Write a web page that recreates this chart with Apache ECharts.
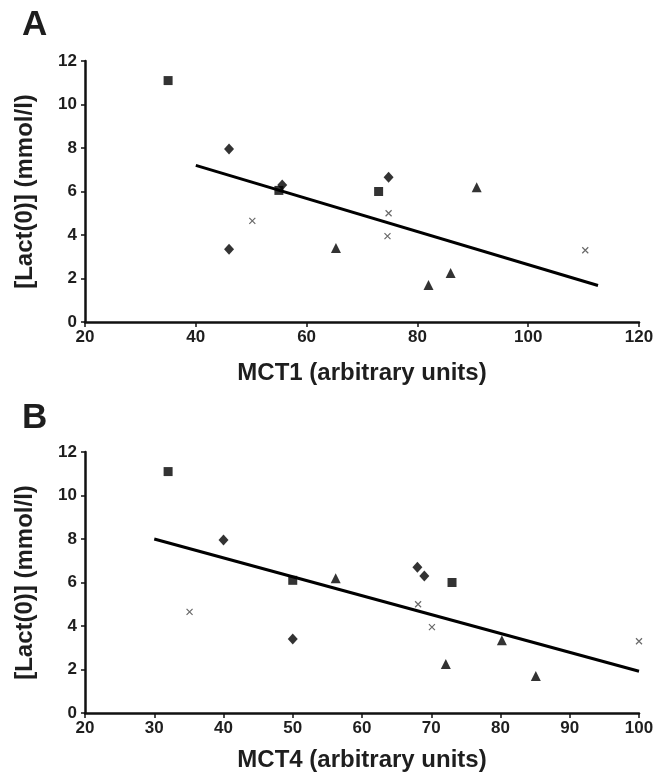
<!DOCTYPE html>
<html>
<head>
<meta charset="utf-8">
<script src="https://cdn.jsdelivr.net/npm/echarts@6/dist/echarts.min.js"></script>
<style>
html,body{margin:0;padding:0;background:#fff;}
#chart{width:670px;height:775px;}
</style>
</head>
<body>
<div id="chart"></div>
<script>
// Panel A: MCT1 vs [Lact(0)]
const aSquares   = [[35, 11.1], [55, 6.05], [73, 6.0]];
const aDiamonds  = [[46, 7.95], [46, 3.35], [55.6, 6.3], [74.8, 6.65]];
const aTriangles = [[65.3, 3.4], [82, 1.7], [86, 2.25], [90.7, 6.2]];
const aCrosses   = [[50.2, 4.65], [74.8, 5.0], [74.6, 3.95], [110.3, 3.3]];
const aFit       = [[40, 7.2], [112.6, 1.68]];

// Panel B: MCT4 vs [Lact(0)]
const bSquares   = [[32, 11.1], [50, 6.1], [73, 6.0]];
const bDiamonds  = [[40, 7.95], [50, 3.4], [68, 6.7], [69, 6.3]];
const bTriangles = [[56.2, 6.2], [72.1, 2.25], [80.2, 3.35], [85.1, 1.7]];
const bCrosses   = [[35.1, 4.65], [68.1, 5.0], [70.1, 3.95], [100, 3.3]];
const bFit       = [[30, 8.0], [100, 1.92]];

const aXTicks = {min: 20, max: 120, interval: 20};
const bXTicks = {min: 20, max: 100, interval: 10};
const yTicks  = {min: 0, max: 12, interval: 2};

const FONT = 'Liberation Sans, Arial, sans-serif';
const TXT = '#1e1e1e';

function xAxisCfg(idx, ticks, name, gap) {
  return {
    gridIndex: idx, type: 'value', min: ticks.min, max: ticks.max, interval: ticks.interval,
    name: name, nameLocation: 'middle', nameGap: gap,
    nameTextStyle: {fontFamily: FONT, fontWeight: 'bold', fontSize: 24, color: TXT},
    axisLine: {show: true, onZero: false, lineStyle: {color: '#111', width: 2.5}},
    axisTick: {show: true, inside: false, length: 5, lineStyle: {color: '#111', width: 1.5}},
    axisLabel: {fontFamily: FONT, fontWeight: 'bold', fontSize: 17, color: TXT, margin: 7},
    splitLine: {show: false}
  };
}
function yAxisCfg(idx) {
  return {
    gridIndex: idx, type: 'value', min: yTicks.min, max: yTicks.max, interval: yTicks.interval,
    name: '[Lact(0)] (mmol/l)', nameLocation: 'middle', nameGap: 48,
    nameTextStyle: {fontFamily: FONT, fontWeight: 'bold', fontSize: 24, color: TXT},
    axisLine: {show: true, onZero: false, lineStyle: {color: '#111', width: 2.5}},
    axisTick: {show: true, inside: false, length: 4, lineStyle: {color: '#111', width: 1.5}},
    axisLabel: {fontFamily: FONT, fontWeight: 'bold', fontSize: 17, color: TXT, margin: 8},
    splitLine: {show: false}
  };
}
const crossPath = 'path://M0,0L10,10M10,0L0,10';
function groupSeries(idx, sq, di, tr, cr, fit) {
  return [
    {type: 'scatter', xAxisIndex: idx, yAxisIndex: idx, data: sq, symbol: 'rect', symbolSize: 9,
     itemStyle: {color: '#000'}},
    {type: 'scatter', xAxisIndex: idx, yAxisIndex: idx, data: di, symbol: 'diamond', symbolSize: [10, 11],
     itemStyle: {color: '#000'}},
    {type: 'scatter', xAxisIndex: idx, yAxisIndex: idx, data: tr, symbol: 'triangle', symbolSize: [10, 10],
     itemStyle: {color: '#000'}},
    {type: 'scatter', xAxisIndex: idx, yAxisIndex: idx, data: cr, symbol: crossPath, symbolSize: 6,
     itemStyle: {color: 'none', borderColor: '#444', borderWidth: 1.2}},
    {type: 'line', xAxisIndex: idx, yAxisIndex: idx, data: fit, symbol: 'none', z: 1,
     lineStyle: {color: '#000', width: 3}}
  ];
}

const chart = echarts.init(document.getElementById('chart'), null, {renderer: 'canvas'});
chart.setOption({
  animation: false,
  backgroundColor: '#fff',
  title: [
    {text: 'A', left: 17, top: 3, textStyle: {fontFamily: FONT, fontWeight: 'bold', fontSize: 35, color: TXT}},
    {text: 'B', left: 17, top: 396, textStyle: {fontFamily: FONT, fontWeight: 'bold', fontSize: 35, color: TXT}}
  ],
  grid: [
    {left: 85, top: 61, width: 554, height: 261},
    {left: 85, top: 452, width: 554, height: 261}
  ],
  xAxis: [xAxisCfg(0, aXTicks, 'MCT1 (arbitrary units)', 39), xAxisCfg(1, bXTicks, 'MCT4 (arbitrary units)', 35)],
  yAxis: [yAxisCfg(0), yAxisCfg(1)],
  series: [].concat(
    groupSeries(0, aSquares, aDiamonds, aTriangles, aCrosses, aFit),
    groupSeries(1, bSquares, bDiamonds, bTriangles, bCrosses, bFit)
  )
});
</script>
</body>
</html>
